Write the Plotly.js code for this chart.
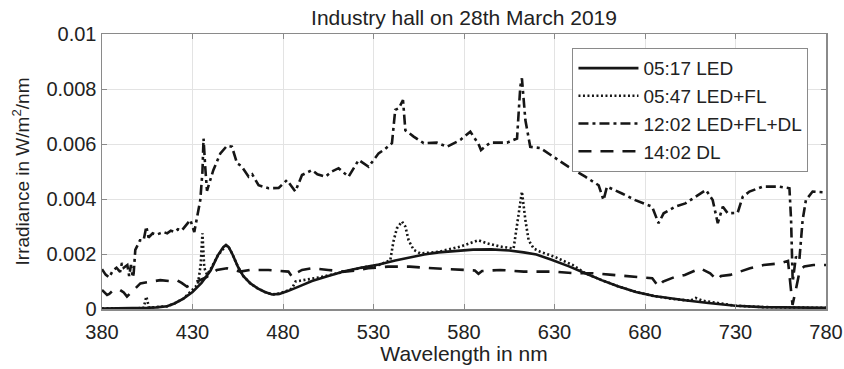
<!DOCTYPE html>
<html>
<head>
<meta charset="utf-8">
<script src="https://cdn.plot.ly/plotly-3.0.1.min.js"></script>
<style>html,body{margin:0;padding:0;background:#fff;}#chart{width:844px;height:369px;}</style>
</head>
<body>
<div id="chart"></div>
<script>
// 05:17 LED
const ledX = [380,390,400,405,410,416,420,425,430,435,440,444,447,448.5,450,452,455,458,462,466,470,474,478,483,490,496,505,514,523,533,542,550,558,566,575,585,595,605,613,620,628,633,638,647,656,665,675,685,695,702,715,730,745,760,780];
const ledY = [0.00002,0.00002,0.00003,0.00004,0.00006,0.0001,0.0002,0.00038,0.00062,0.00095,0.0014,0.00195,0.00225,0.00233,0.00225,0.002,0.00155,0.0012,0.00093,0.00075,0.00062,0.00053,0.00055,0.00066,0.00085,0.00102,0.0012,0.00137,0.0015,0.00162,0.00176,0.00188,0.00198,0.00206,0.00212,0.00216,0.00217,0.00213,0.00206,0.00198,0.0018,0.00168,0.00155,0.0013,0.00105,0.00083,0.00062,0.00047,0.00037,0.00032,0.00022,0.00012,0.00007,0.00005,0.00004];

// 05:47 LED+FL
const ledFlX = [380,390,400,403,404.5,406,410,416,420,425,430,433,434.5,435.5,436.5,438,440,444,448.5,450,452,455,458,462,466,470,474,478,483,485,487,492,500,508,515,525,533,539.3,541,542.9,545.7,547.6,549.4,552.2,555.9,566,578,583.5,588,592.7,600,607.4,610.2,612,613.9,615.7,618.5,622.2,630,640,647,656,665,675,685,695,705,708,712,730,745,760,780];
const ledFlY = [0.00002,0.00002,0.00003,0.00005,0.00045,0.00005,0.00006,0.0001,0.0002,0.00038,0.0007,0.0009,0.0016,0.00275,0.0015,0.00125,0.00145,0.00195,0.0023,0.00225,0.002,0.00155,0.0012,0.00093,0.00075,0.00062,0.00053,0.00056,0.00068,0.00075,0.001,0.00105,0.00115,0.00127,0.00137,0.00152,0.0016,0.00178,0.00245,0.00293,0.00318,0.003,0.0025,0.00215,0.00202,0.00208,0.00227,0.00239,0.0025,0.00239,0.00227,0.0022,0.00336,0.00427,0.00324,0.0025,0.0022,0.00208,0.0019,0.0016,0.0013,0.00105,0.00083,0.00062,0.00047,0.00037,0.0003,0.0004,0.0003,0.00012,0.00007,0.00005,0.00004];

// 12:02 LED+FL+DL
const allX = [380,382,384,386,388,390,391,392,394,395,396,397,397.5,398.4,401,403,404.5,405.7,408,410,412,414,416,418,420,422,424,426,428.8,431,434.3,435.5,436.1,437,438,441.5,445.4,449,451.8,454.6,457,461,463,466.5,472,477.6,482.2,486.8,490.5,496,499,503.4,507,510.7,513,516.2,521.8,527.3,532.8,536,540.2,542,544,546.3,547.6,549.4,552.2,557.7,565,570.6,578,583.5,588,589.4,594.5,603.8,609.3,611.1,612,613.9,616.6,622.2,630.4,637.8,647,654.4,657.1,659,667.3,674.6,683.9,687.5,690.3,696.7,702.3,708.2,713.7,717.4,720.2,723,725.7,731.2,734,737.7,745,754.2,759.8,760.7,761.6,763.4,765.3,767.1,768.9,772.6,780];
const allY = [0.00145,0.00125,0.00115,0.0014,0.0015,0.00135,0.00167,0.0015,0.0016,0.0012,0.0016,0.00115,0.0013,0.00215,0.0025,0.0025,0.003,0.0026,0.00275,0.0027,0.00275,0.0028,0.00275,0.00285,0.0028,0.0029,0.00285,0.003,0.00324,0.0028,0.00396,0.005,0.0062,0.0052,0.0043,0.00505,0.00566,0.00593,0.0059,0.0053,0.0052,0.00481,0.0049,0.0045,0.00439,0.0044,0.00469,0.00427,0.00487,0.00505,0.0049,0.00481,0.0050,0.00512,0.0050,0.00481,0.00542,0.00517,0.00566,0.0058,0.00603,0.00724,0.0073,0.0076,0.0065,0.0064,0.00627,0.00603,0.00605,0.0059,0.00615,0.00645,0.0060,0.00578,0.00605,0.00605,0.0062,0.00808,0.00839,0.00687,0.0059,0.00585,0.00548,0.00517,0.00481,0.0045,0.00396,0.00445,0.0042,0.00396,0.00372,0.00312,0.00348,0.00372,0.00384,0.00408,0.00433,0.00396,0.00312,0.00372,0.00348,0.0035,0.00408,0.00427,0.00445,0.00445,0.00439,0.00324,0.001,0.0019,0.0018,0.00324,0.00396,0.00427,0.00424];

// 14:02 DL
const dlX = [380,382.8,384,386.4,390,392,393.8,395.5,397.5,401.2,406.7,412.2,417,421.4,424,427,432.5,438,443.5,449,456.4,462,472,480,483,485,487,490.5,496,505,514,520,527,538,550,563,576,586,588,590,600,613,622,630,641,651,662,675,684,687.5,690,696.7,702,710.5,716,719.8,722,727,738,745.5,754.7,759,760.5,761.5,763,765.5,768,773,780];
const dlY = [0.00069,0.00051,0.00055,0.00069,0.00069,0.0006,0.00045,0.00055,0.00069,0.00093,0.001,0.00105,0.00102,0.00105,0.00095,0.00081,0.001,0.00117,0.00142,0.00148,0.00136,0.00142,0.00142,0.00138,0.00136,0.00117,0.0013,0.00142,0.00148,0.00142,0.00136,0.0014,0.00148,0.00154,0.00154,0.00148,0.00142,0.0014,0.00128,0.00138,0.00142,0.00136,0.00136,0.00136,0.0013,0.0013,0.00124,0.00117,0.00112,0.00081,0.001,0.00117,0.00124,0.00148,0.0013,0.00105,0.0012,0.00124,0.00148,0.0016,0.00166,0.00175,0.0006,0.00015,0.0006,0.0014,0.00155,0.0016,0.0016];

const seriesNames = ['05:17 LED','05:47 LED+FL','12:02 LED+FL+DL','14:02 DL'];
const xTickVals = [380,430,480,530,580,630,680,730,780];
const yTickVals = [0,0.002,0.004,0.006,0.008,0.01];
const yTickText = ['0','0.002','0.004','0.006','0.008','0.01'];

const ink = '#161616';
const traces = [
  {x: ledX, y: ledY, name: seriesNames[0], mode: 'lines', line: {color: ink, width: 2.6, dash: 'solid'}},
  {x: ledFlX, y: ledFlY, name: seriesNames[1], mode: 'lines', line: {color: ink, width: 2.6, dash: '2px,2.5px'}},
  {x: allX, y: allY, name: seriesNames[2], mode: 'lines', line: {color: ink, width: 2.6, dash: '10px,4px,3px,4px'}},
  {x: dlX, y: dlY, name: seriesNames[3], mode: 'lines', line: {color: ink, width: 2.6, dash: '13px,9px'}}
];

const font = {family: 'Liberation Sans, Arial, Helvetica, sans-serif', color: '#222'};
const layout = {
  width: 844, height: 369,
  margin: {l: 102, r: 18, t: 34, b: 60, pad: 0},
  paper_bgcolor: '#fff', plot_bgcolor: '#fff',
  font: Object.assign({size: 20}, font),
  showlegend: true,
  title: {text: 'Industry hall on 28th March 2019', font: Object.assign({size: 21}, font), x: 0.5, xref: 'paper', xanchor: 'center', y: 0.953, yref: 'container', yanchor: 'middle'},
  xaxis: {
    range: [380, 780], tickvals: xTickVals, ticktext: xTickVals.map(String),
    showgrid: true, gridcolor: '#e3e3e3', gridwidth: 1, zeroline: false,
    showline: true, linecolor: '#8a8a8a', linewidth: 1.5, mirror: 'ticks',
    ticks: 'inside', ticklen: 5, tickcolor: '#8a8a8a', tickwidth: 1,
    ticklabelstandoff: 4,
    tickfont: Object.assign({size: 20}, font),
    title: {text: 'Wavelength in nm', font: Object.assign({size: 21}, font), standoff: 2}
  },
  yaxis: {
    range: [0, 0.01], tickvals: yTickVals, ticktext: yTickText,
    showgrid: true, gridcolor: '#e3e3e3', gridwidth: 1, zeroline: false,
    showline: true, linecolor: '#8a8a8a', linewidth: 1.5, mirror: 'ticks',
    ticks: 'inside', ticklen: 5, tickcolor: '#8a8a8a', tickwidth: 1,
    tickfont: Object.assign({size: 20}, font),
    title: {text: 'Irradiance in W/m<sup>2</sup>/nm', font: Object.assign({size: 19}, font), standoff: 12}
  },
  legend: {
    x: 0.9755, xanchor: 'right', y: 0.949, yanchor: 'top',
    bgcolor: '#fff', bordercolor: '#8a8a8a', borderwidth: 1.2,
    font: Object.assign({size: 19}, font), itemwidth: 60, tracegroupgap: 0
  }
};

Plotly.newPlot('chart', traces, layout, {displayModeBar: false, staticPlot: true});
</script>
</body>
</html>
